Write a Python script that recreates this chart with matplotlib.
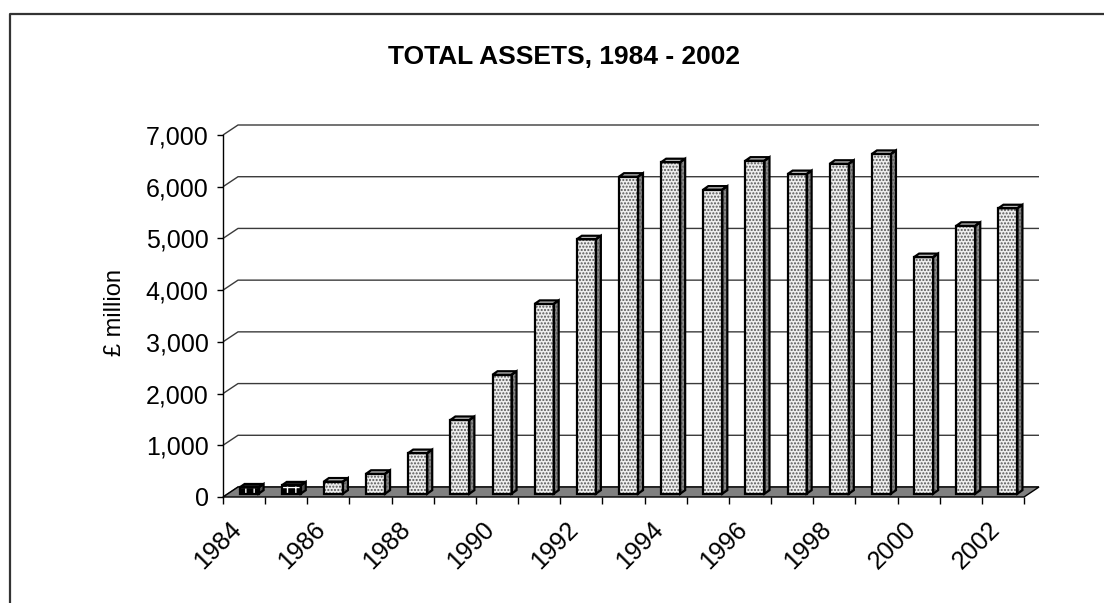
import matplotlib.pyplot as plt
from matplotlib.lines import Line2D
from matplotlib.transforms import offset_copy

plt.rcParams['font.family'] = ['Liberation Sans', 'DejaVu Sans']
plt.rcParams['hatch.color'] = '#555555'
plt.rcParams['hatch.linewidth'] = 1.0

# total assets, £ million
years = list(range(1984, 2003))
assets = [120, 160, 235, 385, 785, 1425, 2300, 3670, 4920, 6130,
          6410, 5880, 6440, 6180, 6380, 6570, 4575, 5180, 5520]
yticks = [0, 1000, 2000, 3000, 4000, 5000, 6000, 7000]
ytick_labels = ['0', '1,000', '2,000', '3,000', '4,000', '5,000', '6,000', '7,000']
title = 'TOTAL ASSETS, 1984 - 2002'
ylabel = '£ million'

W, H = 1104, 603
fig = plt.figure(figsize=(W / 100, H / 100), dpi=100)
ax = fig.add_axes([223 / W, 106 / H, 801 / W, 362 / H])
n = len(years)
ax.set_xlim(0, n)
ax.set_ylim(0, 7000)

# pixel -> data units
px = n / 801
py = 7000 / 362
dx, dy = 15 * px, 10 * py

# side wall diagonals + back wall gridlines
for v in yticks:
    ax.plot([0, dx, n + dx], [v, v + dy, v + dy], color='#3a3a3a', lw=1,
            clip_on=False, zorder=1, solid_capstyle='butt')

# floor
ax.fill([0, n, n + dx, dx], [0, 0, dy, dy], facecolor='#808080',
        edgecolor='black', lw=1, clip_on=False, zorder=2)

# bars (sit a third of the way into the floor depth)
bw = 19 * px
sx, sy = 5 * px, 3.3 * py
ddx, ddy = 5 * px, 3.5 * py
for i, v in enumerate(assets):
    fl = i + 0.5 - 9.5 * px + sx
    fr = fl + bw
    yb = sy
    yt = v + sy
    front = ([fl, fr, fr, fl], [yb, yb, yt, yt])
    side = ([fr, fr + ddx, fr + ddx, fr], [yb, yb + ddy, yt + ddy, yt])
    top = ([fl, fr, fr + ddx, fl + ddx], [yt, yt, yt + ddy, yt + ddy])
    z = 3 + i * 0.01
    if i < 2:
        # tiny bars render as dark blocks in the original
        ax.fill(*front, facecolor='black', edgecolor='white', hatch='++', lw=0,
                clip_on=False, zorder=z)
        ax.fill(*side, facecolor='#505050', hatch='....', lw=0, clip_on=False, zorder=z)
        ax.fill(*top, facecolor='#202020', lw=0, clip_on=False, zorder=z)
    else:
        ax.fill(*front, facecolor='#eeeeee', hatch='.....', lw=0, clip_on=False, zorder=z)
        ax.fill(*side, facecolor='#8a8a8a', hatch='.....', lw=0, clip_on=False, zorder=z)
        ax.fill(*top, facecolor='#cccccc', lw=0, clip_on=False, zorder=z)
    for pts in (front, side, top):
        ax.fill(*pts, fill=False, edgecolor='black', lw=1.6, clip_on=False,
                zorder=z + 0.001, joinstyle='miter')

# axes styling
for s in ('top', 'right', 'bottom'):
    ax.spines[s].set_visible(False)
ax.spines['left'].set_color('black')
ax.spines['left'].set_linewidth(1)
ax.spines['left'].set_zorder(4)
ax.set_yticks(yticks)
ax.set_yticklabels(ytick_labels)
ax.tick_params(axis='y', length=4.3, width=1, pad=6, labelsize=18, color='black')
ax.set_xticks(range(n + 1))
ax.set_xticklabels([])
ax.tick_params(axis='x', length=5, width=1, direction='out', color='black')

trans = offset_copy(ax.transData, fig=fig, x=-15, y=-20, units='dots')
for i, yr in enumerate(years):
    if i % 2 == 0:
        ax.text(i + 0.5, 0, str(yr), transform=trans, rotation=45,
                rotation_mode='anchor', ha='right', va='top', fontsize=18)

fig.text(115 / W, 1 - 313 / H, ylabel, rotation=90, ha='center', va='center',
         fontsize=17)
fig.text(564 / W, 1 - 57.5 / H, title, ha='center', va='center', fontsize=19,
         fontweight='bold')

# chart frame (left and top edges visible)
fig.add_artist(Line2D([10 / W, 10 / W, 1.01], [-0.01, 1 - 14 / H, 1 - 14 / H],
                      transform=fig.transFigure, color='#333333', lw=1.6))

fig.savefig('out.png', dpi=100)
